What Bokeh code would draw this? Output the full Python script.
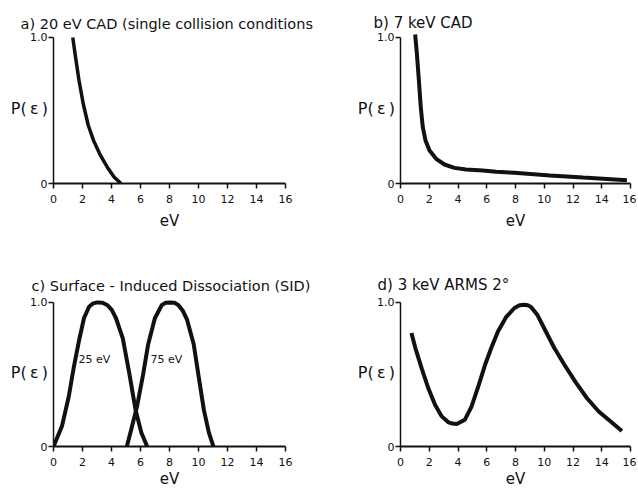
from bokeh.plotting import figure
from bokeh.models import Label, FixedTicker, Range1d
from bokeh.layouts import column, row
from bokeh.embed import file_html
from bokeh.resources import INLINE

# ---------------- data ----------------
x_ticks = [0, 2, 4, 6, 8, 10, 12, 14, 16]
y_ticks = [0, 1]
y_tick_labels = {0: "0", 1: "1.0"}

# a) 20 eV CAD
a_x = [1.33, 1.52, 1.76, 2.05, 2.40, 2.76, 3.24, 3.71, 4.19, 4.66]
a_y = [1.0, 0.865, 0.705, 0.546, 0.397, 0.295, 0.192, 0.112, 0.043, 0.0]

# b) 7 keV CAD
b_x = [1.02, 1.14, 1.28, 1.41, 1.55, 1.74, 2.02, 2.48, 3.06, 3.75, 4.56, 5.72, 6.65, 7.92, 10.4, 12.7, 15.75]
b_y = [1.02, 0.888, 0.705, 0.523, 0.386, 0.295, 0.226, 0.169, 0.130, 0.107, 0.096, 0.089, 0.080, 0.073, 0.055, 0.041, 0.023]

# c) SID, 25 eV and 75 eV
c25_x = [0.0, 0.58, 1.05, 1.40, 1.75, 2.10, 2.45, 2.73, 3.03, 3.38, 3.73, 4.03, 4.31, 4.78, 5.24, 5.66, 6.06, 6.46]
c25_y = [0.0, 0.14, 0.345, 0.55, 0.73, 0.89, 0.97, 0.993, 1.0, 0.998, 0.98, 0.946, 0.89, 0.75, 0.50, 0.254, 0.095, 0.0]
c75_x = [5.06, 5.36, 5.76, 6.18, 6.53, 6.99, 7.46, 7.74, 8.04, 8.34, 8.62, 8.93, 9.21, 9.67, 10.02, 10.37, 10.72, 11.03]
c75_y = [0.0, 0.118, 0.277, 0.50, 0.71, 0.89, 0.98, 0.998, 1.0, 0.998, 0.98, 0.94, 0.88, 0.71, 0.48, 0.254, 0.095, 0.0]

# d) 3 keV ARMS 2 deg
d_x = [0.76, 1.03, 1.49, 1.95, 2.41, 2.87, 3.33, 3.61, 3.91, 4.48, 4.94, 5.40, 5.86, 6.32, 6.78,
       7.36, 7.93, 8.28, 8.62, 8.85, 9.08, 9.54, 10.11, 10.69, 11.38, 12.18, 12.99, 13.79, 14.6, 15.4]
d_y = [0.787, 0.685, 0.537, 0.40, 0.288, 0.209, 0.168, 0.159, 0.156, 0.186, 0.277, 0.413, 0.56, 0.685, 0.798,
       0.90, 0.961, 0.98, 0.984, 0.98, 0.968, 0.91, 0.798, 0.685, 0.571, 0.447, 0.333, 0.243, 0.175, 0.107]

FONT = "DejaVu Sans"
INK = "#111111"


def make_panel(width, height, bl, br, bt, bb, title, title_offset, title_size, title_standoff, xlabel_standoff):
    p = figure(width=width, height=height, x_range=Range1d(0, 16), y_range=Range1d(0, 1.027),
               output_backend="svg", toolbar_location=None,
               min_border_left=bl, min_border_right=br, min_border_top=bt, min_border_bottom=bb)
    p.outline_line_color = None
    p.background_fill_color = "white"
    p.border_fill_color = "white"
    p.grid.visible = False
    p.title.text = title
    p.title.align = "left"
    p.title.offset = title_offset
    p.title.standoff = title_standoff
    p.title.text_font = FONT
    p.title.text_font_size = title_size
    p.title.text_font_style = "normal"
    p.title.text_color = INK
    p.xaxis.ticker = FixedTicker(ticks=x_ticks)
    p.yaxis.ticker = FixedTicker(ticks=y_ticks)
    p.yaxis.major_label_overrides = y_tick_labels
    p.yaxis.bounds = (0, 1)
    for ax in (p.xaxis, p.yaxis):
        ax.minor_tick_line_color = None
        ax.major_tick_in = 0
        ax.major_tick_out = 5
        ax.major_tick_line_color = INK
        ax.major_tick_line_width = 1.5
        ax.axis_line_color = INK
        ax.major_label_text_font = FONT
        ax.major_label_text_font_size = "11px"
        ax.major_label_text_color = INK
        ax.axis_label_text_font = FONT
        ax.axis_label_text_font_size = "15px"
        ax.axis_label_text_font_style = "normal"
        ax.axis_label_text_color = INK
    p.xaxis.axis_line_width = 2
    p.yaxis.axis_line_width = 1.5
    p.xaxis.major_label_standoff = 6
    p.yaxis.major_label_standoff = 1
    p.yaxis.axis_label = "P(\u2009\u03b5\u2009)"
    p.yaxis.axis_label_text_font_size = "16px"
    p.yaxis.axis_label_orientation = "horizontal"
    p.yaxis.axis_label_standoff = -21
    p.xaxis.axis_label = "eV"
    p.xaxis.axis_label_standoff = xlabel_standoff
    return p


pa = make_panel(318, 246, 53, 33, 33, 63, "a) 20 eV CAD (single collision conditions", -33, "14.5px", 4, 6)
pa.line(a_x, a_y, line_width=3.5, line_color=INK)

pb = make_panel(318, 246, 82, 6, 33, 63, "b) 7 keV CAD", -27, "15px", 4, 6)
pb.line(b_x, b_y, line_width=4, line_color=INK)

pc = make_panel(318, 244, 53, 33, 52, 41, "c) Surface - Induced Dissociation (SID)", -22, "14.5px", 9, 1)
pc.line(c25_x, c25_y, line_width=4, line_color=INK)
pc.line(c75_x, c75_y, line_width=4, line_color=INK)
pc.add_layout(Label(x=1.72, y=0.605, text="25 eV", text_font=FONT, text_font_size="11px",
                    text_color=INK, text_align="left", text_baseline="middle"))
pc.add_layout(Label(x=6.69, y=0.605, text="75 eV", text_font=FONT, text_font_size="11px",
                    text_color=INK, text_align="left", text_baseline="middle"))

pd = make_panel(318, 244, 82, 6, 52, 41, "d) 3 keV ARMS 2\u00b0", -23, "15px", 9, 1)
pd.line(d_x, d_y, line_width=4, line_color=INK)

layout = column(row(pa, pb), row(pc, pd))
open("out.html", "w").write(file_html(layout, INLINE))
